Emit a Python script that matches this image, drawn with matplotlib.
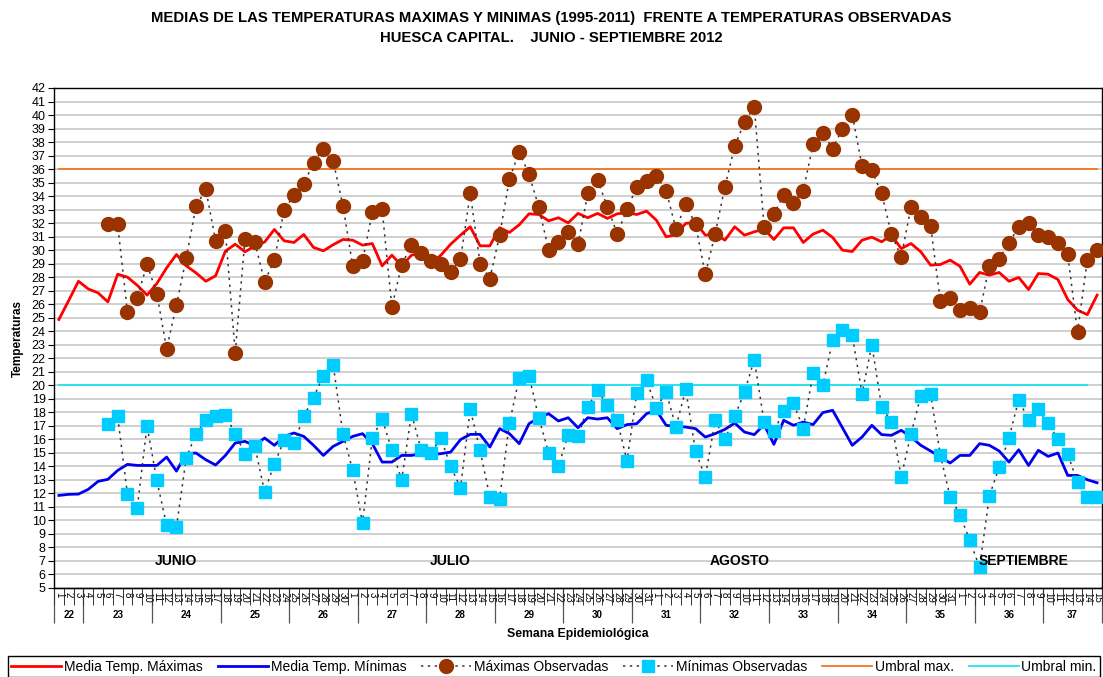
import numpy as np
import matplotlib
matplotlib.use('Agg')
import matplotlib.pyplot as plt

plt.rcParams['font.family'] = ['Liberation Sans', 'DejaVu Sans']

# dias 1 jun - 15 sep 2012
days = np.arange(1, 108)
day_labels = list(range(1, 31)) + list(range(1, 32)) + list(range(1, 32)) + list(range(1, 16))
weeks = list(range(22, 38))
week_len = [3, 7, 7, 7, 7, 7, 7, 7, 7, 7, 7, 7, 7, 7, 7, 6]
months = ['JUNIO', 'JULIO', 'AGOSTO', 'SEPTIEMBRE']
month_pos = [13, 41, 70.5, 99.5]

media_max = [24.87, 26.27, 27.7, 27.13, 26.84, 26.17, 28.22, 28.0, 27.4, 26.67,
             27.53, 28.69, 29.68, 28.84, 28.32, 27.7, 28.1, 29.93, 30.44, 29.88,
             30.3, 30.6, 31.53, 30.69, 30.57, 31.16, 30.2, 29.95, 30.4, 30.79,
             30.74, 30.37, 30.49, 28.84, 29.63, 28.84, 29.63, 29.8, 29.01, 29.63,
             30.44, 31.11, 31.73, 30.32, 30.32, 31.66, 31.31, 31.88, 32.69, 32.64,
             32.17, 32.4, 32.02, 32.72, 32.4, 32.72, 32.35, 32.69, 32.77, 32.64,
             32.89, 32.22, 30.99, 31.14, 31.98, 32.05, 31.11, 31.19, 30.74, 31.73,
             31.11, 31.36, 31.56, 30.79, 31.65, 31.65, 30.57, 31.19, 31.48, 30.94,
             30.0, 29.9, 30.74, 30.96, 30.62, 31.11, 30.12, 30.49, 29.88, 28.89,
             28.94, 29.26, 28.81, 27.48, 28.35, 28.15, 28.35, 27.7, 27.98, 27.09,
             28.27, 28.22, 27.83, 26.35, 25.56, 25.23, 26.67]

media_min = [11.85, 11.93, 11.95, 12.3, 12.89, 13.04, 13.7, 14.15, 14.07, 14.07,
             14.07, 14.69, 13.65, 14.94, 14.99, 14.49, 14.1, 14.81, 15.73, 15.85,
             15.53, 16.1, 15.56, 16.22, 16.47, 16.22, 15.56, 14.81, 15.48, 15.85,
             16.22, 16.42, 15.68, 14.32, 14.32, 14.81, 14.81, 14.94, 14.89, 14.94,
             15.06, 15.98, 16.37, 16.37, 15.43, 16.79, 16.42, 15.68, 17.16, 17.6,
             17.9, 17.36, 17.6, 16.86, 17.6, 17.5, 17.6, 16.79, 17.09, 17.16,
             17.9, 18.15, 17.04, 16.96, 16.91, 16.79, 16.17, 16.42, 16.74, 17.21,
             16.54, 16.35, 17.09, 15.63, 17.41, 17.04, 17.28, 17.09, 17.98, 18.15,
             16.86, 15.56, 16.17, 17.04, 16.35, 16.3, 16.67, 16.17, 15.56, 15.14,
             14.69, 14.25, 14.81, 14.81, 15.68, 15.56, 15.14, 14.32, 15.23, 14.07,
             15.19, 14.74, 14.99, 13.33, 13.33, 13.01, 12.79]

# observadas desde el 6 de junio
obs_days = np.arange(6, 108)
max_obs = [31.9, 31.9, 25.41, 26.47, 28.96, 26.79, 22.69, 25.93, 29.41, 33.26,
           34.5, 30.69, 31.4, 22.42, 30.81, 30.59, 27.68, 29.28, 32.99, 34.05,
           34.9, 36.48, 37.49, 36.6, 33.3, 28.84, 29.21, 32.79, 33.01, 25.8,
           28.91, 30.4, 29.8, 29.23, 28.94, 28.4, 29.31, 34.2, 29.01, 27.9,
           31.11, 35.28, 37.28, 35.6, 33.19, 30.0, 30.62, 31.31, 30.42, 34.2,
           35.19, 33.21, 31.21, 33.01, 34.69, 35.11, 35.48, 34.4, 31.58, 33.38,
           31.9, 28.2, 31.21, 34.69, 37.7, 39.48, 40.59, 31.73, 32.69, 34.07,
           33.5, 34.4, 37.83, 38.69, 37.5, 38.99, 40.02, 36.22, 35.9, 34.2,
           31.2, 29.5, 33.19, 32.42, 31.8, 26.22, 26.49, 25.6, 25.7, 25.41,
           28.81, 29.38, 30.52, 31.73, 32.0, 31.11, 31.0, 30.5, 29.7, 23.93,
           29.28, 30.0]
min_obs = [17.11, 17.7, 11.93, 10.91, 17.01, 12.96, 9.63, 9.51, 14.62, 16.42,
           17.41, 17.7, 17.8, 16.42, 14.91, 15.51, 12.12, 14.2, 15.93, 15.73,
           17.7, 19.09, 20.72, 21.53, 16.42, 13.7, 9.8, 16.1, 17.53, 15.19,
           13.01, 17.9, 15.19, 14.99, 16.1, 14.0, 12.42, 18.22, 15.19, 11.73,
           11.6, 17.21, 20.54, 20.69, 17.6, 15.01, 14.02, 16.3, 16.22, 18.4,
           19.63, 18.52, 17.41, 14.4, 19.43, 20.37, 18.32, 19.51, 16.91, 19.7,
           15.11, 13.21, 17.41, 16.0, 17.7, 19.51, 21.9, 17.28, 16.59, 18.07,
           18.69, 16.79, 20.91, 20.0, 23.33, 24.07, 23.7, 19.38, 23.01, 18.4,
           17.28, 13.21, 16.42, 19.21, 19.38, 14.81, 11.73, 10.42, 8.52, 6.54,
           11.8, 13.95, 16.1, 18.94, 17.41, 18.22, 17.21, 16.0, 14.89, 12.84,
           11.73, 11.73]

umbral_max = 36
umbral_min = 20

fig = plt.figure(figsize=(11.03, 6.77), dpi=100)
ax = fig.add_axes([54 / 1103, 1 - 588 / 677, 1048 / 1103, 500 / 677])

ax.plot(days, [umbral_max] * len(days), color='#F47421', lw=1.3, zorder=2, label='Umbral max.')
ax.plot(days[:-1], [umbral_min] * (len(days) - 1), color='#1EE6F2', lw=1.3, zorder=2, label='Umbral min.')
ax.plot(days, media_max, color='#FF0000', lw=2.0, zorder=3, label='Media Temp. Máximas')
ax.plot(days, media_min, color='#0000F0', lw=2.0, zorder=3, label='Media Temp. Mínimas')
ax.plot(obs_days, max_obs, color='#333333', ls=(0, (1.5, 3)), lw=1.1, marker='o', ms=10,
        mfc='#993300', mec='#993300', zorder=4, label='Máximas Observadas')
ax.plot(obs_days, min_obs, color='#333333', ls=(0, (1.5, 3)), lw=1.1, marker='s', ms=8.8,
        mfc='#00CCFF', mec='#00CCFF', zorder=4, label='Mínimas Observadas')

ax.set_xlim(0.5, 107.5)
ax.set_ylim(5, 42)
ax.set_yticks(range(5, 43))
ax.tick_params(axis='y', labelsize=9, length=4, pad=2)
ax.grid(axis='y', color='#C8C8C8', lw=1.2, zorder=0)
ax.set_axisbelow(True)
for s in ax.spines.values():
    s.set_linewidth(1.0)

# eje x: dias
ax.set_xticks(days)
ax.set_xticklabels(day_labels, rotation=-90, fontsize=7)
ax.tick_params(axis='x', which='major', length=0, pad=3)
ax.set_xticks(np.arange(0.5, 108, 1), minor=True)
ax.tick_params(axis='x', which='minor', length=12, width=0.7, color='#333333')

# eje x: semanas
bounds = np.concatenate([[0.5], 0.5 + np.cumsum(week_len)])
centers = (bounds[:-1] + bounds[1:]) / 2
sec = ax.secondary_xaxis('bottom')
sec.set_xticks(bounds)
sec.set_xticklabels([''] * len(bounds))
sec.tick_params(length=25, width=0.9, color='#555555')
sec2 = ax.secondary_xaxis('bottom')
sec2.set_xticks(centers)
sec2.set_xticklabels(weeks, fontsize=7, fontweight='bold')
sec2.tick_params(length=0, pad=16)

for m, p in zip(months, month_pos):
    ax.text(p, 7.0, m, ha='center', va='center', fontsize=10, fontweight='bold', zorder=5)

fig.text(0.5, 1 - 18 / 677, 'MEDIAS DE LAS TEMPERATURAS MAXIMAS Y MINIMAS (1995-2011)  FRENTE A TEMPERATURAS OBSERVADAS',
         ha='center', va='center', fontsize=10.7, fontweight='bold')
fig.text(0.5, 1 - 38 / 677, 'HUESCA CAPITAL.    JUNIO - SEPTIEMBRE 2012',
         ha='center', va='center', fontsize=10.7, fontweight='bold')
fig.text(578 / 1103, 1 - 634 / 677, 'Semana Epidemiológica', ha='center', va='center',
         fontsize=8.8, fontweight='bold')
fig.text(18 / 1103, 1 - 338 / 677, 'Temperaturas', ha='center', va='center', rotation=90,
         fontsize=8.5, fontweight='bold')

h, l = ax.get_legend_handles_labels()
order = [2, 3, 4, 5, 0, 1]
fig.legend([h[i] for i in order], [l[i] for i in order], loc='lower left',
           bbox_to_anchor=(8 / 1103, 0, 1092 / 1103, 22 / 677), mode='expand', ncol=6,
           fontsize=10, frameon=True, fancybox=False, edgecolor='black', framealpha=1,
           handlelength=3.6, handletextpad=0.2, borderpad=0.25, borderaxespad=0, columnspacing=0.5)

fig.savefig('out.png', dpi=100)
